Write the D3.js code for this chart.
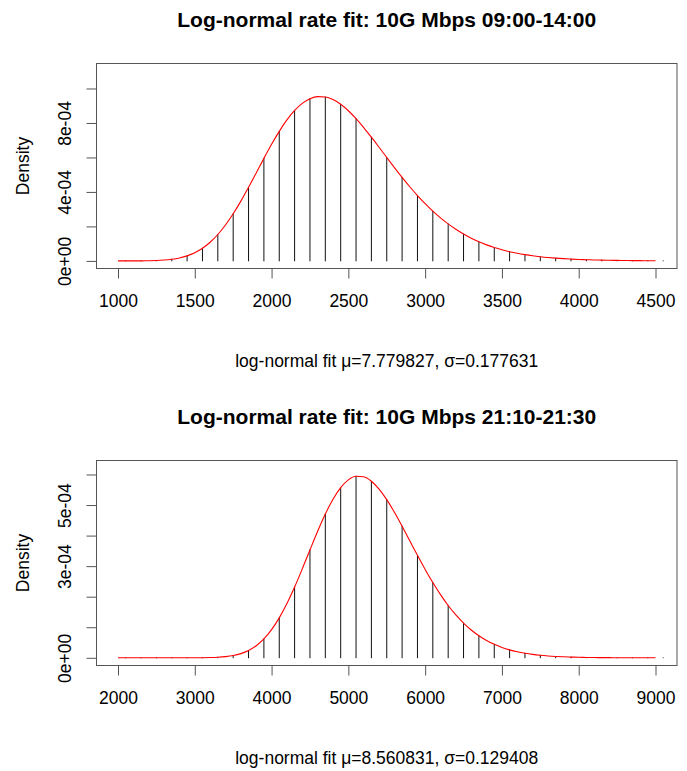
<!DOCTYPE html>
<html>
<head>
<meta charset="utf-8">
<script src="https://cdn.jsdelivr.net/npm/d3@7"></script>
<style>
  html, body { margin: 0; padding: 0; background: #fff; }
  svg { display: block; }
  text { font-family: "Liberation Sans", Arial, Helvetica, sans-serif; fill: #000; }
</style>
</head>
<body>
<svg id="chart" width="687" height="771"></svg>
<script>
// ---------- Panel 1: 09:00-14:00 ----------
const titles = ["Log-normal rate fit: 10G Mbps 09:00-14:00", "Log-normal rate fit: 10G Mbps 21:10-21:30"];
const subtitles = ["log-normal fit \u03bc=7.779827, \u03c3=0.177631", "log-normal fit \u03bc=8.560831, \u03c3=0.129408"];
const yLabel = "Density";

// fitted density curve samples (Mbps, density)
const curve1X = [1000,1100,1200,1300,1400,1500,1600,1700,1800,1900,2000,2100,2200,2300,2400,2500,2600,2700,2800,2900,3000,3100,3200,3300,3400,3500,3600,3700,3800,3900,4000,4100,4200,4300,4400,4500];
const curve1Y = [1.3e-8,1.44e-7,9.96e-7,4.78e-6,1.70e-5,4.75e-5,1.083e-4,2.083e-4,3.467e-4,5.104e-4,6.762e-4,8.178e-4,9.138e-4,9.530e-4,9.356e-4,8.710e-4,7.736e-4,6.591e-4,5.413e-4,4.301e-4,3.320e-4,2.496e-4,1.833e-4,1.318e-4,9.30e-5,6.46e-5,4.41e-5,2.97e-5,1.98e-5,1.30e-5,8.50e-6,5.49e-6,3.52e-6,2.24e-6,1.42e-6,8.9e-7];
// vertical density lines at bin mids
const lines1X = [1050,1150,1250,1350,1450,1550,1650,1750,1850,1950,2050,2150,2250,2350,2450,2550,2650,2750,2850,2950,3050,3150,3250,3350,3450,3550,3650,3750,3850,3950,4050,4150,4250,4350,4450,4550];
const lines1Y = [4.6e-8,3.98e-7,2.27e-6,9.33e-6,2.92e-5,7.34e-5,1.531e-4,2.732e-4,4.267e-4,5.947e-4,7.515e-4,8.725e-4,9.408e-4,9.510e-4,9.083e-4,8.254e-4,7.176e-4,5.999e-4,4.844e-4,3.792e-4,2.887e-4,2.145e-4,1.558e-4,1.110e-4,7.76e-5,5.35e-5,3.63e-5,2.43e-5,1.61e-5,1.05e-5,6.84e-6,4.40e-6,2.81e-6,1.78e-6,1.12e-6,7.0e-7];
const x1Ticks = [1000,1500,2000,2500,3000,3500,4000,4500];
const y1Ticks = [0,2e-4,4e-4,6e-4,8e-4,1e-3];
const y1TickLabels = ["0e+00","","4e-04","","8e-04",""];

// ---------- Panel 2: 21:10-21:30 ----------
const curve2X = [2000,2200,2400,2600,2800,3000,3200,3400,3600,3800,4000,4200,4400,4600,4800,5000,5200,5400,5600,5800,6000,6200,6400,6600,6800,7000,7200,7400,7600,7800,8000,8200,8400,8600,8800,9000];
const curve2Y = [0,3e-13,1.85e-11,5.8e-10,1.0e-8,1.06e-7,7.44e-7,3.70e-6,1.370e-5,3.957e-5,9.205e-5,1.776e-4,2.912e-4,4.140e-4,5.190e-4,5.825e-4,5.925e-4,5.523e-4,4.762e-4,3.829e-4,2.893e-4,2.067e-4,1.404e-4,9.108e-5,5.671e-5,3.403e-5,1.975e-5,1.111e-5,6.08e-6,3.25e-6,1.69e-6,8.6e-7,4.3e-7,2.1e-7,1.0e-7,5e-8];
const lines2X = [2100,2300,2500,2700,2900,3100,3300,3500,3700,3900,4100,4300,4500,4700,4900,5100,5300,5500,5700,5900,6100,6300,6500,6700,6900,7100,7300,7500,7700,7900,8100,8300,8500,8700,8900,9100];
const lines2Y = [2.5e-14,2.5e-12,1.13e-10,2.58e-9,3.4e-8,2.94e-7,1.72e-6,7.36e-6,2.397e-5,6.187e-5,1.307e-4,2.318e-4,3.531e-4,4.704e-4,5.571e-4,5.943e-4,5.780e-4,5.176e-4,4.306e-4,3.353e-4,2.462e-4,1.713e-4,1.137e-4,7.223e-5,4.414e-5,2.603e-5,1.487e-5,8.25e-6,4.46e-6,2.35e-6,1.21e-6,6.1e-7,3.1e-7,1.5e-7,7e-8,3.4e-8];
const x2Ticks = [2000,3000,4000,5000,6000,7000,8000,9000];
const y2Ticks = [0,1e-4,2e-4,3e-4,4e-4,5e-4,6e-4];
const y2TickLabels = ["0e+00","","","3e-04","","5e-04",""];

// ---------- drawing ----------
const svg = d3.select("#chart");
svg.append("rect").attr("width", 687).attr("height", 771).attr("fill", "#fff");

const panels = [
  { title: titles[0], sub: subtitles[0], cx: curve1X, cy: curve1Y, lx: lines1X, ly: lines1Y,
    xt: x1Ticks, yt: y1Ticks, ytl: y1TickLabels,
    xDomain: [860, 4640], yDomain: [-4.41e-5, 1.145e-3],
    left: 96.5, right: 677, top: 63.5, bottom: 268.5 },
  { title: titles[1], sub: subtitles[1], cx: curve2X, cy: curve2Y, lx: lines2X, ly: lines2Y,
    xt: x2Ticks, yt: y2Ticks, ytl: y2TickLabels,
    xDomain: [1720, 9280], yDomain: [-2.52e-5, 6.458e-4],
    left: 96.5, right: 677, top: 460.5, bottom: 665.5 }
];

const axisColor = "#555";
const fs = 17.5;

panels.forEach(p => {
  const g = svg.append("g");
  const x = d3.scaleLinear().domain(p.xDomain).range([p.left, p.right]);
  const y = d3.scaleLinear().domain(p.yDomain).range([p.bottom, p.top]);
  const cxm = (p.left + p.right) / 2;
  const cym = (p.top + p.bottom) / 2;

  // vertical density lines
  g.append("g").selectAll("line").data(p.lx.map((v, i) => [v, p.ly[i]]))
    .join("line")
    .attr("x1", d => x(d[0])).attr("x2", d => x(d[0]))
    .attr("y1", y(0)).attr("y2", d => y(d[1]))
    .attr("stroke", "#111").attr("stroke-width", 1).attr("stroke-linecap", "round");

  // fitted curve (sample points of curve + line tops inside curve range)
  const lo = d3.min(p.cx), hi = d3.max(p.cx);
  const pts = p.cx.map((v, i) => [v, p.cy[i]])
    .concat(p.lx.map((v, i) => [v, p.ly[i]]).filter(d => d[0] >= lo && d[0] <= hi))
    .sort((a, b) => a[0] - b[0]);
  g.append("path").datum(pts)
    .attr("d", d3.line().x(d => x(d[0])).y(d => y(d[1])).curve(d3.curveMonotoneX))
    .attr("fill", "none").attr("stroke", "#ff0000").attr("stroke-width", 1.1);

  // box
  g.append("rect").attr("x", p.left).attr("y", p.top)
    .attr("width", p.right - p.left).attr("height", p.bottom - p.top)
    .attr("fill", "none").attr("stroke", axisColor).attr("stroke-width", 1);

  // x axis
  const xa = g.append("g").attr("transform", `translate(0,${p.bottom})`)
    .call(d3.axisBottom(x).tickValues(p.xt).tickSize(10).tickFormat(d3.format("d")));
  xa.select(".domain").remove();
  xa.selectAll(".tick line").attr("stroke", axisColor);
  xa.selectAll(".tick text").attr("y", 38.5).attr("dy", 0)
    .style("font-size", fs + "px").style("font-family", "'Liberation Sans', Arial, sans-serif").attr("fill", "#000");

  // y axis
  const ya = g.append("g").attr("transform", `translate(${p.left},0)`)
    .call(d3.axisLeft(y).tickValues(p.yt).tickSize(10).tickFormat((d, i) => p.ytl[i]));
  ya.select(".domain").remove();
  ya.selectAll(".tick line").attr("stroke", axisColor);
  ya.selectAll(".tick text").attr("x", 0).attr("y", 0).attr("dy", 0)
    .attr("transform", "translate(-25.5,0) rotate(-90)")
    .attr("text-anchor", "middle")
    .style("font-size", fs + "px").style("font-family", "'Liberation Sans', Arial, sans-serif").attr("fill", "#000");

  // y label
  g.append("text").attr("transform", `translate(28.5,${cym}) rotate(-90)`)
    .attr("text-anchor", "middle").style("font-size", fs + "px").text(yLabel);

  // title
  g.append("text").attr("x", cxm).attr("y", p.top - 37)
    .attr("text-anchor", "middle").style("font-size", "21px").style("font-weight", "bold").text(p.title);

  // subtitle
  g.append("text").attr("x", cxm).attr("y", p.bottom + 98.5)
    .attr("text-anchor", "middle").style("font-size", fs + "px").text(p.sub);
});
</script>
</body>
</html>
